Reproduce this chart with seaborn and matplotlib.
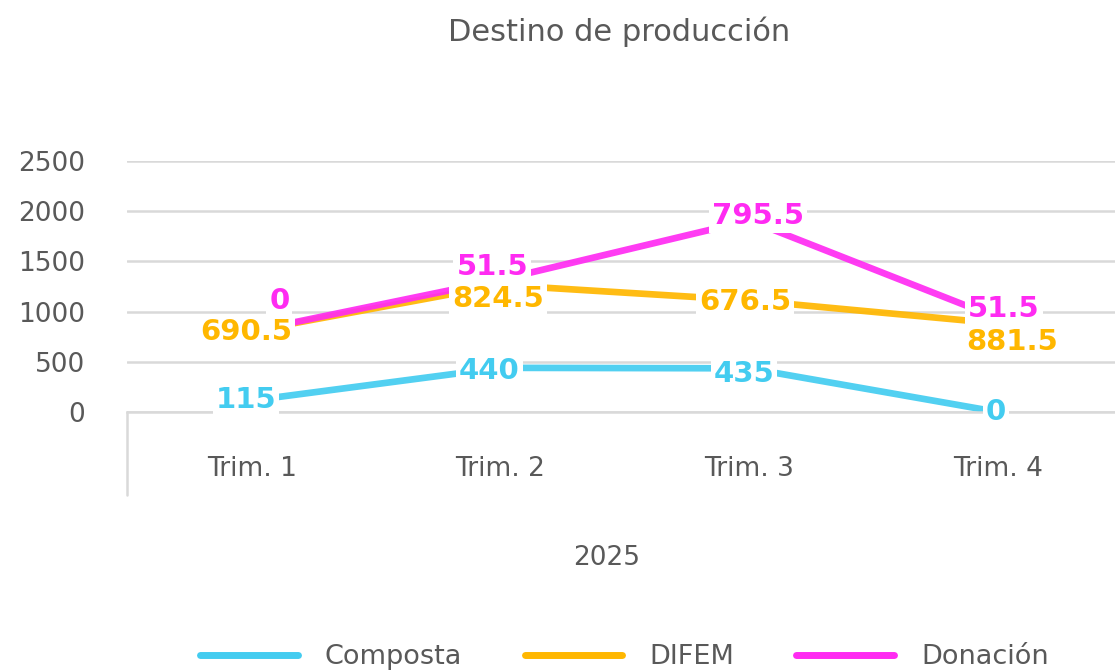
"""Destino de producción: stacked line chart by quarter."""

import matplotlib

matplotlib.use("Agg", force=True)

import matplotlib.pyplot as plt
import numpy as np
import pandas as pd
import seaborn as sns

quarters = ["Trim. 1", "Trim. 2", "Trim. 3", "Trim. 4"]
series_names = ["Composta", "DIFEM", "Donación"]
composta = [115, 440, 435, 0]
difem = [690.5, 824.5, 676.5, 881.5]
donacion = [0, 51.5, 795.5, 51.5]
year_label = "2025"
y_ticks = [0, 500, 1000, 1500, 2000, 2500]

colors = {"Composta": "#43CCF0", "DIFEM": "#FFB700", "Donación": "#FF2BF2"}
# label nudges in points (dx, dy), to mimic hand-placed labels
label_offsets = {
    "Composta": [(-4, 0), (-8, -2), (-4, -4), (-2, 0)],
    "DIFEM": [(-4, -1), (-2, -10), (-3, -1), (10, -13)],
    "Donación": [(20, 22), (-6, 9), (6, 3), (4, 7)],
}

values = {"Composta": composta, "DIFEM": difem, "Donación": donacion}
stacked = np.cumsum([composta, difem, donacion], axis=0)
df = pd.DataFrame(
    [
        {"quarter": q, "serie": name, "total": stacked[i][j], "value": values[name][j]}
        for i, name in enumerate(series_names)
        for j, q in enumerate(quarters)
    ]
)

sns.set_style("white")
plt.rcParams["font.family"] = ["DejaVu Sans"]
text_gray = "#595959"

fig = plt.figure(figsize=(11.15, 6.7), dpi=100)
ax = fig.add_axes([0.114, 0.385, 0.893, 0.375])

sns.lineplot(
    data=df, x="quarter", y="total", hue="serie", hue_order=series_names,
    palette=colors, linewidth=4.8, alpha=0.92, solid_capstyle="round",
    sort=False, ax=ax, legend=False,
)

for name in series_names:
    sub = df[df["serie"] == name]
    for j, (_, row) in enumerate(sub.iterrows()):
        dx, dy = label_offsets[name][j]
        ax.annotate(
            f"{row['value']:g}", (j, row["total"]), xytext=(dx, dy),
            textcoords="offset points", ha="center", va="center",
            fontsize=21, fontweight="bold", color=colors[name], zorder=5,
            bbox=dict(boxstyle="square,pad=0.1", fc="white", ec="none"),
        )

ax.set_xlim(-0.5, 3.5)
ax.set_ylim(0, 2500)
ax.set_yticks(y_ticks)
ax.grid(axis="y", color="#D9D9D9", linewidth=1.8)
ax.set_axisbelow(True)
for side in ["top", "right", "left"]:
    ax.spines[side].set_visible(False)
ax.spines["bottom"].set_color("#D9D9D9")
ax.spines["bottom"].set_linewidth(1.8)
ax.plot([0, 0], [0, -0.33], transform=ax.transAxes, color="#D9D9D9",
        linewidth=1.8, clip_on=False)

ax.tick_params(axis="y", length=0, pad=30, labelsize=19, labelcolor=text_gray)
ax.tick_params(axis="x", length=0, pad=32, labelsize=19, labelcolor=text_gray)
for lab in ax.get_yticklabels():
    lab.set_horizontalalignment("right")
ax.set_xlabel(year_label, fontsize=19, color=text_gray)
ax.xaxis.set_label_coords(0.482, -0.53)
ax.set_ylabel("")

fig.suptitle("Destino de producción", x=0.555, y=0.975, fontsize=22,
             color=text_gray)

handles = [plt.Line2D([], [], color=colors[n], linewidth=5, solid_capstyle="round")
           for n in series_names]
fig.legend(handles, series_names, loc="lower center", bbox_to_anchor=(0.56, -0.037),
           ncol=3, frameon=False, fontsize=19.5, handlelength=3.6,
           columnspacing=2.3, handletextpad=1.0, labelcolor=text_gray)

fig.savefig("out.png", dpi=100)
plt.close(fig)
